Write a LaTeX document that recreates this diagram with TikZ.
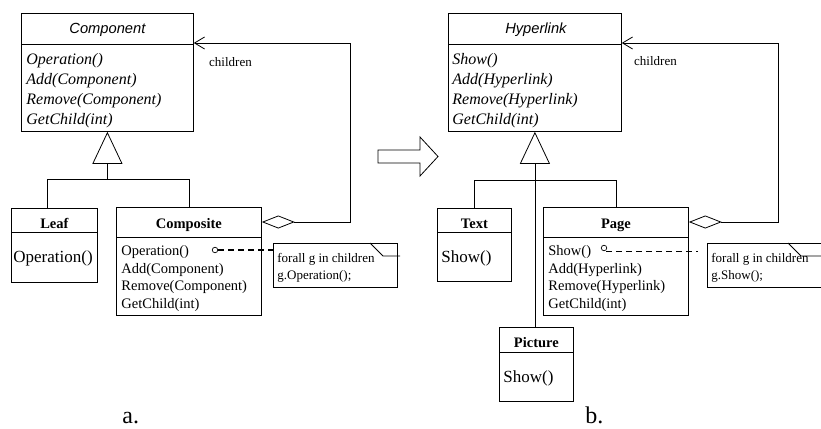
\documentclass[tikz,border=0pt]{standalone}
\usepackage{fontspec}
\setmainfont{Liberation Serif}
\setsansfont{Liberation Sans}
\usetikzlibrary{arrows.meta,positioning,calc}

\begin{document}
\begin{tikzpicture}[
  x=1pt, y=-1pt,
  line width=0.8pt,
  cls/.style={draw, rectangle, inner sep=0pt, anchor=north west},
  absname/.style={font=\fontsize{14.7}{17}\selectfont\sffamily\itshape, anchor=base, inner sep=0pt},
  clsname/.style={font=\fontsize{14.5}{17}\selectfont\bfseries, anchor=base, inner sep=0pt},
  absops/.style={font=\fontsize{16}{20}\selectfont\itshape, align=left, anchor=north west, inner sep=0pt},
  ops/.style={font=\fontsize{14.5}{17.5}\selectfont, align=left, anchor=north west, inner sep=0pt},
  leafop/.style={font=\fontsize{17}{20}\selectfont, anchor=west, inner sep=0pt},
  note/.style={draw, rectangle, inner sep=0pt, anchor=north west, minimum width=124, minimum height=44},
  notetext/.style={font=\fontsize{13}{17}\selectfont, align=left, anchor=north west, inner sep=0pt},
  role/.style={font=\fontsize{13}{15}\selectfont, anchor=west, inner sep=0pt},
  gen/.style={-{Triangle[open,length=32pt,width=30pt]}},
  agg/.style={{Diamond[open,length=33pt,width=13pt]}-{Straight Barb[length=10pt,width=12pt]}},
  anchorline/.style={line width=1.6pt, dash pattern=on 6pt off 4pt},
  pin/.style={circle, draw, inner sep=0pt, minimum size=5.5pt, line width=0.7pt},
  caption/.style={font=\fontsize{24}{28}\selectfont, anchor=base west, inner sep=0pt},
]
\clip (0,0) rectangle (821,428);

% a. composite pattern
\node[cls, minimum width=172, minimum height=118] (component) at (21,13) {};
\draw ($(component.north west)+(0,31)$) -- ($(component.north east)+(0,31)$);
\node[absname] (componentname) at ($(component.north)+(0,21)$) {Component};
\node[absops] (componentops) at ($(component.north west)+(5,39.5)$) {Operation()\\Add(Component)\\Remove(Component)\\GetChild(int)};

\node[cls, minimum width=86, minimum height=74] (leaf) at (11,208) {};
\draw ($(leaf.north west)+(0,24)$) -- ($(leaf.north east)+(0,24)$);
\node[clsname] (leafname) at ($(leaf.north)+(0,20)$) {Leaf};
\node[leafop] (leafops) at ($(leaf.north west)+(2,50)$) {Operation()};

\node[cls, minimum width=145, minimum height=108] (composite) at (116,207) {};
\draw ($(composite.north west)+(0,30)$) -- ($(composite.north east)+(0,30)$);
\node[clsname] (compositename) at ($(composite.north)+(0,21)$) {Composite};
\node[ops] (compositeops) at ($(composite.north west)+(5,38.5)$) {Operation()\\Add(Component)\\Remove(Component)\\GetChild(int)};

\node[note] (notea) at (273,243) {};
\draw ($(notea.north west)+(97,0)$) -- ($(notea.north west)+(110,13)$) -- ($(notea.north west)+(127,13)$);
\node[notetext] (noteatext) at ($(notea.north west)+(4,10)$) {forall g in children\\g.Operation();};
\node[pin] (pina) at (215,250) {};
\draw[anchorline] (pina.east) -- (pina -| notea.west);

\coordinate (forka) at ($(component.south)+(0,48)$);
\draw[gen] (forka) -- (component.south);
\draw ($(leaf.north)+(-7,0)$) |- (forka) -| (composite.north);
\draw[agg] ($(composite.north east)+(0,15)$) -| ($(component.north east)+(157,30)$) -- ($(component.north east)+(0,30)$);
\node[role] (childrena) at ($(component.north east)+(15,49)$) {children};

% refactoring arrow
\draw (378,150) -- (420,150) -- (420,137) -- (438,156.5) -- (420,176) -- (420,163) -- (378,163) -- cycle;

% b. hypertext
\node[cls, minimum width=173, minimum height=118] (hyperlink) at (448,13) {};
\draw ($(hyperlink.north west)+(0,31)$) -- ($(hyperlink.north east)+(0,31)$);
\node[absname] (hyperlinkname) at ($(hyperlink.north)+(1,21)$) {Hyperlink};
\node[absops] (hyperlinkops) at ($(hyperlink.north west)+(4,39.5)$) {Show()\\Add(Hyperlink)\\Remove(Hyperlink)\\GetChild(int)};

\node[cls, minimum width=74, minimum height=73] (text) at (437,208) {};
\draw ($(text.north west)+(0,24)$) -- ($(text.north east)+(0,24)$);
\node[clsname] (textname) at ($(text.north)+(0,20)$) {Text};
\node[leafop] (textops) at ($(text.north west)+(4,50)$) {Show()};

\node[cls, minimum width=145, minimum height=108] (page) at (543,207) {};
\draw ($(page.north west)+(0,30)$) -- ($(page.north east)+(0,30)$);
\node[clsname] (pagename) at ($(page.north)+(0,21)$) {Page};
\node[ops] (pageops) at ($(page.north west)+(5,38.5)$) {Show()\\Add(Hyperlink)\\Remove(Hyperlink)\\GetChild(int)};

\node[cls, minimum width=74, minimum height=74] (picture) at (499,327) {};
\draw ($(picture.north west)+(0,25)$) -- ($(picture.north east)+(0,25)$);
\node[clsname] (picturename) at ($(picture.north)+(0,20)$) {Picture};
\node[leafop] (pictureops) at ($(picture.north west)+(4,51)$) {Show()};

\node[note] (noteb) at (707,243) {};
\draw ($(noteb.north west)+(81,0)$) -- ($(noteb.north west)+(94,13)$) -- ($(noteb.north west)+(130,13)$);
\node[notetext] (notebtext) at ($(noteb.north west)+(4,10)$) {forall g in children\\g.Show();};
\node[pin] (pinb) at (604,248) {};
\draw[anchorline, shorten >=9pt] ($(pinb.south east)+(0,1.5)$) -- ($(pinb.south east -| noteb.west)+(0,1.5)$);

\coordinate (forkb) at ($(hyperlink.south)+(0,49)$);
\draw[gen] (hyperlink.south |- picture.north) -- (hyperlink.south);
\draw (text.north) |- (forkb) -| (page.north);
\draw[agg] ($(page.north east)+(0,15)$) -| ($(hyperlink.north east)+(157,30)$) -- ($(hyperlink.north east)+(0,30)$);
\node[role] (childrenb) at ($(hyperlink.north east)+(12,48)$) {children};

\node[caption] (capa) at (122,423) {a.};
\node[caption] (capb) at (585,423) {b.};
\end{tikzpicture}
\end{document}
